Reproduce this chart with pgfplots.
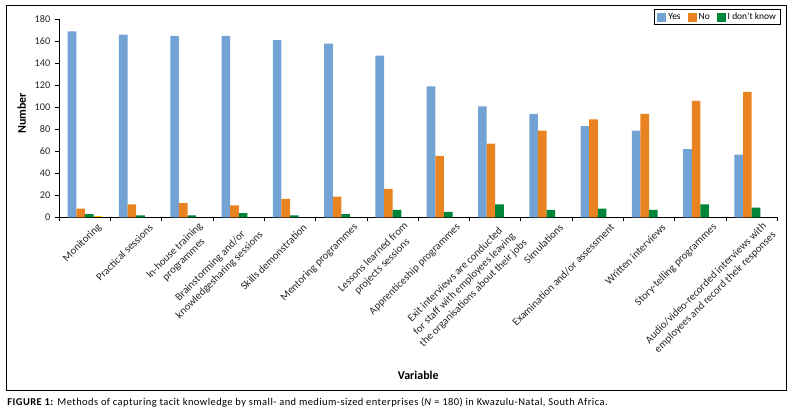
\documentclass[border=0pt]{standalone}
\usepackage{fontspec}
\setmainfont{Carlito}
\newfontfamily\capfont[LetterSpace=4.2]{Carlito}
\usepackage{pgfplots}
\pgfplotsset{compat=1.18}

\definecolor{cyes}{RGB}{115,162,212}
\definecolor{cno}{RGB}{233,131,32}
\definecolor{cidk}{RGB}{0,134,58}
\definecolor{cyel}{RGB}{255,192,0}

\tikzset{
  catlbl/.style={rotate=45, anchor=east, align=center, inner sep=0pt, xshift=4.8bp,
    font=\fontsize{10.8}{13}\selectfont, text=black!85},
  one/.style={catlbl, yshift=-16.3bp},
  two/.style={catlbl, yshift=-20.9bp},
  three/.style={catlbl, yshift=-25.5bp},
}

\begin{document}
\begin{tikzpicture}
\useasboundingbox (0,0) rectangle (791bp,412bp);
\draw[line width=0.9bp] (6bp,21.3bp) rectangle (786.7bp,406.7bp);
\node[anchor=base west, inner sep=0pt, font=\capfont\fontsize{10.5}{12}\selectfont] at (7.3bp,6.3bp)
  {\textbf{FIGURE 1:} Methods of capturing tacit knowledge by small- and medium-sized enterprises (\textit{N} = 180) in Kwazulu-Natal, South Africa.};
\begin{axis}[
  at={(59.3bp,194.5bp)}, anchor=south west,
  scale only axis, width=718bp, height=198.2bp,
  xmin=-0.5, xmax=13.5, ymin=0, ymax=180,
  clip=false,
  axis lines=left,
  axis line style={-, line width=0.9bp, black},
  tick align=outside,
  tick style={black, line width=0.8bp},
  major tick length=4bp,
  ytick={0,20,...,180},
  /pgf/number format/assume math mode=true,
  yticklabel style={font=\fontsize{10.3}{12}\selectfont, text=black!85, xshift=-1.5bp},
  xtick={-0.5,0.5,...,13.5},
  xticklabels={},
  xlabel={Variable},
  xlabel style={at={(axis description cs:0.5,0)}, anchor=center, yshift=-158.2bp,
    font=\fontsize{12}{14}\selectfont\bfseries},
  ybar, bar width=0.168,
  legend columns=-1,
  legend style={at={(1,1)}, anchor=north east, xshift=4bp, yshift=10bp,
    draw=black, line width=0.9bp, font=\fontsize{9.5}{10}\selectfont,
    inner xsep=3bp, inner ysep=1.2bp,
    /tikz/every even column/.append style={column sep=5bp}},
  legend image code/.code={\fill[#1, draw=none] (0bp,-4.5bp) rectangle (9bp,4.5bp);},
]
\addplot[fill=cyes, draw=none, bar shift=-0.252] coordinates {
  (0,169) (1,166) (2,165) (3,165) (4,161) (5,158) (6,147)
  (7,119) (8,101) (9,94) (10,83) (11,79) (12,62) (13,57)};
\addplot[fill=cno, draw=none, bar shift=-0.084] coordinates {
  (0,8) (1,12) (2,13) (3,11) (4,17) (5,19) (6,26)
  (7,56) (8,67) (9,79) (10,89) (11,94) (12,106) (13,114)};
\addplot[fill=cidk, draw=none, bar shift=0.084] coordinates {
  (0,3) (1,2) (2,2) (3,4) (4,2) (5,3) (6,7)
  (7,5) (8,12) (9,7) (10,8) (11,7) (12,12) (13,9)};
\addplot[fill=cyel, draw=none, bar shift=0.252, forget plot] coordinates {
  (0,1)};
\legend{Yes, No, I don't know}

% category labels
\node[one]   at (axis cs:0,0)  {Monitoring};
\node[one]   at (axis cs:1,0)  {Practical sessions};
\node[two]   at (axis cs:2,0)  {In-house training\\programmes};
\node[two]   at (axis cs:3,0)  {Brainstorming and/or\\knowledgesharing sessions};
\node[one]   at (axis cs:4,0)  {Skills demonstration};
\node[one]   at (axis cs:5,0)  {Mentoring programmes};
\node[two]   at (axis cs:6,0)  {Lessons learned from\\projects sessions};
\node[one]   at (axis cs:7,0)  {Apprenticeship programmes};
\node[three] at (axis cs:8,0)  {Exit interviews are conducted\\for staff with employees leaving\\the organisations about their jobs};
\node[one]   at (axis cs:9,0)  {Simulations};
\node[one]   at (axis cs:10,0) {Examination and/or assessment};
\node[one]   at (axis cs:11,0) {Written interviews};
\node[one]   at (axis cs:12,0) {Story-telling programmes};
\node[two]   at (axis cs:13,0) {Audio/video-recorded interviews with\\employees and record their responses};

\node[rotate=90, anchor=center, font=\fontsize{12}{14}\selectfont\bfseries]
  at (rel axis cs:-0.0524,0.525) {Number};
\end{axis}
\end{tikzpicture}
\end{document}
